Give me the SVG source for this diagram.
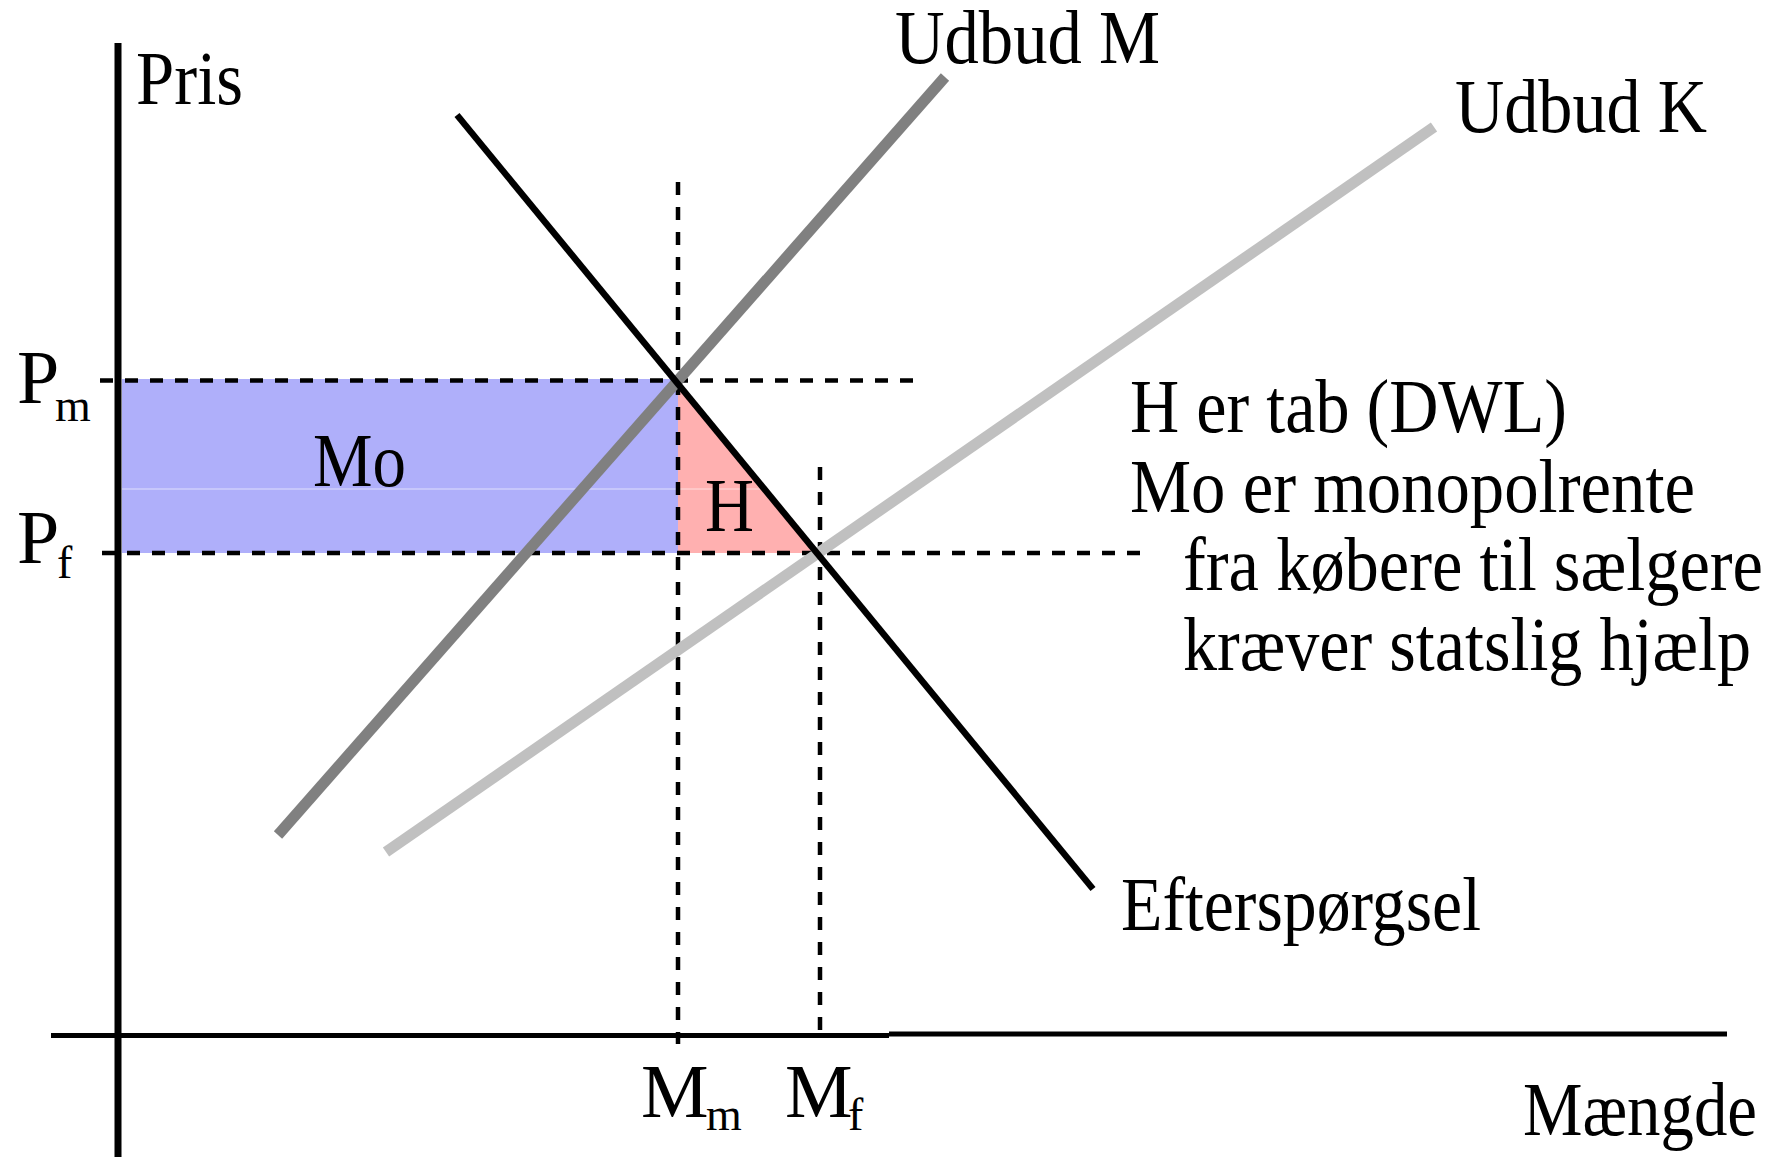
<svg xmlns="http://www.w3.org/2000/svg" width="1780" height="1157" viewBox="0 0 1780 1157">
<style>
  text { font-family: "Liberation Serif", "Times New Roman", serif; fill: #000; }
  .lbl { font-size: 76px; }
  .sub { font-size: 46px; }
  .dash { stroke: #000; stroke-width: 4.5; stroke-dasharray: 13 12; fill: none; }
  .axis { stroke: #000; fill: none; }
</style>
<rect width="1780" height="1157" fill="#fff"/>
<g id="areas">
  <rect id="mo-area" x="122" y="379" width="556" height="174" fill="#AFAFFA"/>
  <polygon id="h-area" points="678,380 678,553 820,553" fill="#FFB0B0"/>
  <line x1="122" y1="489" x2="760" y2="489" stroke="#ffffff" stroke-width="1" opacity="0.6"/>
</g>
<g id="connectors">
  <line class="dash" x1="100" y1="380.5" x2="916" y2="380.5"/>
  <line class="dash" x1="102" y1="553" x2="1145" y2="553"/>
  <line class="dash" x1="678" y1="182" x2="678" y2="1044"/>
  <line class="dash" x1="820" y1="467" x2="820" y2="1035"/>
  <line id="udbud-m" x1="278" y1="835" x2="945" y2="77" stroke="#808080" stroke-width="11"/>
  <line id="udbud-k" x1="386" y1="852" x2="1434" y2="127" stroke="#C0C0C0" stroke-width="11"/>
  <line id="eftersp" x1="457" y1="115" x2="1093" y2="889" stroke="#000" stroke-width="6.5"/>
  <line class="axis" x1="118" y1="43" x2="118" y2="1157" stroke-width="7"/>
  <line class="axis" x1="51" y1="1035.5" x2="889" y2="1035.5" stroke-width="5"/>
  <line class="axis" x1="889" y1="1034" x2="1727" y2="1034" stroke-width="5"/>
</g>
<g id="labels">
  <g id="pris"><text class="lbl" x="136" y="104" textLength="107" lengthAdjust="spacingAndGlyphs">Pris</text></g>
  <g id="udbud-m-label"><text class="lbl" x="895" y="63" textLength="265" lengthAdjust="spacingAndGlyphs">Udbud M</text></g>
  <g id="udbud-k-label"><text class="lbl" x="1455" y="132" textLength="252" lengthAdjust="spacingAndGlyphs">Udbud K</text></g>
  <g id="legend">
    <text class="lbl" x="1130" y="432" textLength="437" lengthAdjust="spacingAndGlyphs">H er tab (DWL)</text>
    <text class="lbl" x="1130" y="512" textLength="565" lengthAdjust="spacingAndGlyphs">Mo er monopolrente</text>
    <text class="lbl" x="1183" y="590" textLength="580" lengthAdjust="spacingAndGlyphs">fra købere til sælgere</text>
    <text class="lbl" x="1183" y="670" textLength="568" lengthAdjust="spacingAndGlyphs">kræver statslig hjælp</text>
  </g>
  <g id="mo-label"><text class="lbl" x="313" y="486" textLength="93" lengthAdjust="spacingAndGlyphs">Mo</text></g>
  <g id="h-label"><text class="lbl" x="705" y="531" textLength="49" lengthAdjust="spacingAndGlyphs">H</text></g>
  <g id="eftersp-label"><text class="lbl" x="1121" y="930" textLength="360" lengthAdjust="spacingAndGlyphs">Efterspørgsel</text></g>
  <g id="maengde"><text class="lbl" x="1523" y="1135" textLength="234" lengthAdjust="spacingAndGlyphs">Mængde</text></g>
  <g id="pm"><text class="lbl" x="17" y="403">P<tspan class="sub" x="55" y="421">m</tspan></text></g>
  <g id="pf"><text class="lbl" x="17" y="563">P<tspan class="sub" x="57" y="578">f</tspan></text></g>
  <g id="mm"><text class="lbl" x="641" y="1117">M<tspan class="sub" x="706" y="1130">m</tspan></text></g>
  <g id="mf"><text class="lbl" x="785" y="1117">M<tspan class="sub" x="848" y="1130">f</tspan></text></g>
</g>
</svg>
